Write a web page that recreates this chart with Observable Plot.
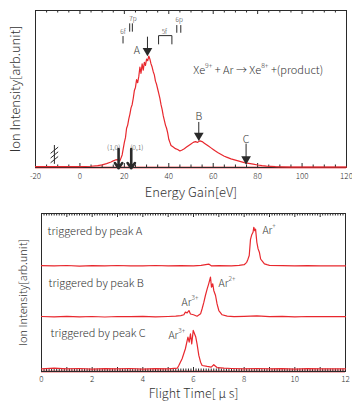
<!DOCTYPE html>
<html><head><meta charset="utf-8">
<script src="https://cdn.jsdelivr.net/npm/d3@7"></script>
<script src="https://cdn.jsdelivr.net/npm/@observablehq/plot@0.6"></script>
<style>
body{margin:0;background:#fff;}
#chart{width:352px;height:401px;}
#chart svg{display:block;}
</style></head><body><div id="chart"></div>
<script>
// ---------- top panel: energy gain spectrum ----------
const spectrum = [
  [-20,0.005],[-10,0.005],[0,0.006],[5,0.008],[8,0.012],[10,0.017],[12,0.025],[14,0.035],[15,0.042],[16,0.048],
  [17,0.05],[18,0.042],[19,0.08],[19.5,0.12],[20,0.16],[20.5,0.19],[21,0.25],[21.5,0.27],[22,0.31],[22.5,0.34],
  [23,0.38],[23.5,0.40],[24,0.44],[24.5,0.49],[25,0.51],[25.5,0.56],[26,0.54],[26.5,0.58],[27,0.64],[27.5,0.60],
  [28,0.66],[28.5,0.62],[29,0.67],[29.5,0.65],[30,0.69],[30.5,0.68],[31,0.71],[31.5,0.69],[32,0.66],[32.5,0.64],
  [33,0.61],[33.5,0.59],[34,0.55],[34.5,0.53],[35,0.50],[35.5,0.47],[36,0.44],[36.5,0.40],[37,0.37],[37.5,0.33],
  [38,0.30],[38.5,0.27],[39,0.25],[39.5,0.22],[40,0.18],[40.5,0.16],[41,0.14],[42,0.13],[43,0.12],[44,0.115],
  [45,0.105],[46,0.112],[47,0.12],[48,0.13],[49,0.14],[50,0.15],[51,0.16],[52,0.165],[53,0.16],[54,0.17],
  [55,0.165],[56,0.155],[57,0.145],[58,0.135],[59,0.125],[60,0.115],[61,0.105],[62,0.096],[63,0.088],[64,0.08],
  [65,0.072],[66,0.066],[68,0.055],[70,0.047],[72,0.039],[74,0.031],[76,0.026],[78,0.021],[80,0.016],[82,0.012],
  [84,0.009],[86,0.007],[88,0.005],[90,0.004],[95,0.003],[100,0.003],[110,0.003],[120,0.003]
];
const energyTicks = d3.range(-20, 121, 5);
const energyLabels = [-20, 0, 20, 40, 60, 80, 100, 120];
// peak markers: label, arrow x, arrow top, arrow tip
const peakNames = ["A", "B", "C"];
const peakX = [30.4, 53.5, 74.8];
const peakTop = [0.83, 0.287, 0.149];
const peakTip = [0.712, 0.172, 0.022];
const peakLabelX = [25.6, 53.5, 74.8];
const peakLabelY = [0.745, 0.323, 0.18];
// (1,0) and (0,1) channels
const channelNames = ["(1,0)", "(0,1)"];
const channelX = [17.4, 23.1];
const channelLabelX = [15.2, 25.6];
// Rydberg level marks
const levelNames = ["6f", "7p", "5f", "6p"];
const levelLabelX = [19.4, 23.9, 38.0, 44.7];
const levelLabelY = [0.862, 0.947, 0.862, 0.943];
const levelLines = [[19.4, 0.787, 0.834], [22.4, 0.862, 0.915], [23.6, 0.862, 0.915], [43.6, 0.855, 0.904], [45.4, 0.855, 0.904]];
const bracket5f = [[35.4, 0.787], [35.4, 0.84], [41.4, 0.84], [41.4, 0.787]];
const breakLine = [-11.5, 0.02, 0.14];
const breakHatches = [[-13.2, 0.03, -9.8, 0.07], [-13.2, 0.06, -9.8, 0.10], [-13.2, 0.09, -9.8, 0.13]];
const reaction = "Xe^{9+} + Ar → Xe^{8+} +(product)";

// ---------- bottom panel: coincidence TOF ----------
const traceA = [
  [0,0.004],[0.5,0.002],[1,0.005],[1.5,0.001],[2,0.004],[2.5,0.002],[3,0.005],[3.5,0.002],[4,0.003],[4.5,0.005],
  [5,0.002],[5.5,0.004],[6,0.003],[6.3,0.006],[6.6,0.014],[6.7,0.003],[7,0.004],[7.5,0.003],[7.8,0.006],[8.0,0.01],
  [8.1,0.025],[8.15,0.045],[8.2,0.068],[8.25,0.17],[8.3,0.2],[8.35,0.215],[8.38,0.247],[8.42,0.225],[8.45,0.235],[8.5,0.152],
  [8.55,0.11],[8.6,0.089],[8.65,0.046],[8.7,0.035],[8.8,0.015],[8.9,0.01],[9.0,0.006],[9.5,0.004],[10,0.002],[10.5,0.004],
  [11,0.002],[11.5,0.003],[12,0.002]
];
const traceB = [
  [0,0.004],[0.5,0.002],[1,0.005],[1.5,0.002],[2,0.004],[2.5,0.001],[3,0.004],[3.5,0.003],[4,0.005],[4.5,0.002],
  [5,0.004],[5.3,0.006],[5.5,0.01],[5.62,0.015],[5.68,0.032],[5.75,0.027],[5.82,0.042],[5.88,0.02],[6.0,0.015],[6.14,0.006],
  [6.28,0.021],[6.34,0.053],[6.41,0.095],[6.47,0.137],[6.54,0.179],[6.6,0.211],[6.67,0.253],[6.71,0.19],[6.76,0.211],[6.8,0.169],
  [6.87,0.137],[6.93,0.084],[7.0,0.042],[7.13,0.015],[7.33,0.006],[7.6,0.003],[8,0.005],[8.5,0.008],[9,0.003],[9.5,0.005],
  [10,0.002],[10.5,0.004],[11,0.003],[11.5,0.004],[12,0.003]
];
const traceC = [
  [0,0.004],[0.5,0.008],[1,0.003],[1.5,0.006],[2,0.002],[2.5,0.005],[3,0.003],[3.5,0.006],[4,0.002],[4.5,0.005],
  [5,0.004],[5.36,0.008],[5.42,0.025],[5.55,0.068],[5.68,0.131],[5.78,0.205],[5.83,0.173],[5.88,0.226],[5.93,0.162],[5.99,0.247],
  [6.04,0.226],[6.09,0.205],[6.14,0.162],[6.21,0.089],[6.28,0.046],[6.34,0.025],[6.54,0.019],[6.7,0.015],[6.8,0.03],[6.93,0.012],
  [7.2,0.008],[7.5,0.006],[8,0.004],[8.5,0.006],[9,0.003],[9.5,0.005],[10,0.002],[10.5,0.005],[11,0.003],[11.5,0.004],[12,0.003]
];
const traceOffsets = [0.666, 0.344, 0.013];
const triggerLabels = ["triggered by peak A", "triggered by peak B", "triggered by peak C"];
const triggerX = [0.24, 0.28, 0.36];
const triggerY = [0.886, 0.557, 0.24];
const ionLabels = ["Ar^{+}", "Ar^{2+}", "Ar^{3+}", "Ar^{3+}"];
const ionX = [8.72, 6.99, 5.53, 5.01];
const ionY = [0.892, 0.557, 0.437, 0.228];
const timeTicks = d3.range(0, 121).map(i => i / 10);
const timeLabels = [0, 2, 4, 6, 8, 10, 12];

// ---------- drawing ----------
const FONT = "'Noto Sans CJK JP','Noto Sans',sans-serif";
const RED = "#e8282e";
const PINK = "#f6b3b6";
const INK = "#2a2a2a";
const TXT = "#333";

function edgeTicks(values, isMajor, frameH, major, minor) {
  const maj = values.filter(isMajor), min = values.filter(v => !isMajor(v));
  return [
    Plot.ruleX(maj, {x: d => d, insetBottom: frameH - major, stroke: INK}),
    Plot.ruleX(min, {x: d => d, insetBottom: frameH - minor, stroke: INK}),
    Plot.ruleX(maj, {x: d => d, insetTop: frameH - major, stroke: INK}),
    Plot.ruleX(min, {x: d => d, insetTop: frameH - minor, stroke: INK})
  ];
}

function supify(svg) {
  svg.querySelectorAll("text").forEach(t => {
    const s = t.textContent;
    if (!s.includes("^{")) return;
    const fs = parseFloat(getComputedStyle(t).fontSize) || 10;
    const parts = s.split(/(\^\{[^}]*\})/).filter(p => p);
    t.textContent = "";
    let raised = false;
    parts.forEach(p => {
      const ts = document.createElementNS("http://www.w3.org/2000/svg", "tspan");
      if (p.startsWith("^{")) {
        ts.textContent = p.slice(2, -1);
        ts.setAttribute("font-size", (fs * 0.62).toFixed(1));
        ts.setAttribute("dy", (-fs * 0.55).toFixed(1));
        raised = true;
      } else {
        ts.textContent = p;
        if (raised) ts.setAttribute("dy", (fs * 0.55).toFixed(1));
        raised = false;
      }
      t.appendChild(ts);
    });
  });
}

const TOP_H = 203, TOP_FRAME = 157;
const topChart = Plot.plot({
  width: 352, height: TOP_H, marginLeft: 35, marginRight: 6, marginTop: 10, marginBottom: 36,
  x: {domain: [-20, 120]},
  y: {domain: [0, 1], axis: null},
  style: {fontFamily: FONT, fontWeight: 300, background: "white", color: TXT},
  marks: [
    Plot.ruleY([0], {stroke: PINK, strokeWidth: 3}),
    ...edgeTicks(energyTicks, d => d % 20 === 0, TOP_FRAME, 4, 2.5),
    Plot.axisX(energyLabels, {anchor: "bottom", tickSize: 0, tickPadding: 6, fontSize: 8, label: null, tickFormat: d => String(d)}),
    Plot.frame({stroke: INK}),
    Plot.line(spectrum, {x: d => d[0], y: d => d[1], stroke: RED, strokeWidth: 1.2}),
    // level marks
    Plot.ruleX(levelLines, {x: d => d[0], y1: d => d[1], y2: d => d[2], stroke: INK, strokeWidth: 1}),
    Plot.line(bracket5f, {x: d => d[0], y: d => d[1], stroke: INK, strokeWidth: 1}),
    Plot.text(levelNames, {x: (d, i) => levelLabelX[i], y: (d, i) => levelLabelY[i], fontSize: 6.5, fill: TXT}),
    // axis break symbol
    Plot.ruleX([breakLine], {x: d => d[0], y1: d => d[1], y2: d => d[2], stroke: INK}),
    Plot.link(breakHatches, {x1: d => d[0], y1: d => d[1], x2: d => d[2], y2: d => d[3], stroke: INK}),
    // peak arrows
    Plot.ruleX(peakNames, {x: (d, i) => peakX[i], y1: (d, i) => peakTop[i], y2: (d, i) => peakTip[i], stroke: INK, strokeWidth: 1}),
    Plot.dot(peakNames, {x: (d, i) => peakX[i], y: (d, i) => peakTip[i], symbol: "triangle", r: 3.6, rotate: 180, dy: -5, fill: INK, stroke: "none"}),
    Plot.text(peakNames, {x: (d, i) => peakLabelX[i], y: (d, i) => peakLabelY[i], fontSize: 10.5, fill: TXT}),
    // channel arrows
    Plot.arrow(channelNames, {x1: (d, i) => channelX[i], x2: (d, i) => channelX[i], y1: 0.117, y2: -0.005, stroke: INK, strokeWidth: 2.6, headLength: 7, headAngle: 70}),
    Plot.text(channelNames, {x: (d, i) => channelLabelX[i], y: 0.128, fontSize: 6.8, fill: TXT}),
    Plot.text([reaction], {x: 51, y: 0.62, textAnchor: "start", fontSize: 11, fill: TXT}),
    Plot.text(["Ion Intensity[arb.unit]"], {frameAnchor: "left", textAnchor: "middle", lineAnchor: "middle", rotate: -90, dx: -20, fontSize: 13, fill: TXT}),
    Plot.text(["Energy Gain[eV]"], {frameAnchor: "bottom", lineAnchor: "middle", dy: 25.5, fontSize: 13, fill: TXT})
  ]
});

const BOT_H = 198, BOT_FRAME = 158;
const stacked = [traceA, traceB, traceC];
const botChart = Plot.plot({
  width: 352, height: BOT_H, marginLeft: 41, marginRight: 7, marginTop: 10, marginBottom: 30,
  x: {domain: [0, 12]},
  y: {domain: [0, 1], axis: null},
  style: {fontFamily: FONT, fontWeight: 300, background: "white", color: TXT},
  marks: [
    Plot.ruleY([0], {stroke: PINK, strokeWidth: 3}),
    ...edgeTicks(timeTicks, d => Math.abs(d - Math.round(d)) < 1e-9, BOT_FRAME, 4, 2.5),
    Plot.axisX(timeLabels, {anchor: "bottom", tickSize: 0, tickPadding: 5, fontSize: 8, label: null, tickFormat: d => String(d)}),
    Plot.frame({stroke: INK}),
    ...stacked.map((tr, k) => Plot.line(tr, {x: d => d[0], y: d => d[1] + traceOffsets[k], stroke: RED, strokeWidth: 1.2})),
    Plot.text(triggerLabels, {x: (d, i) => triggerX[i], y: (d, i) => triggerY[i], textAnchor: "start", fontSize: 11, fill: TXT}),
    Plot.text(ionLabels, {x: (d, i) => ionX[i], y: (d, i) => ionY[i], textAnchor: "start", fontSize: 10.5, fill: TXT}),
    Plot.text(["Ion Intensity[arb.unit]"], {frameAnchor: "left", textAnchor: "middle", lineAnchor: "middle", rotate: -90, dx: -18, fontSize: 11, fill: TXT}),
    Plot.text(["Flight Time[ μ s]"], {frameAnchor: "bottom", lineAnchor: "middle", dy: 22.5, fontSize: 12.5, fill: TXT})
  ]
});

const host = document.getElementById("chart");
host.appendChild(topChart);
host.appendChild(botChart);
supify(topChart);
supify(botChart);
</script>
</body></html>
